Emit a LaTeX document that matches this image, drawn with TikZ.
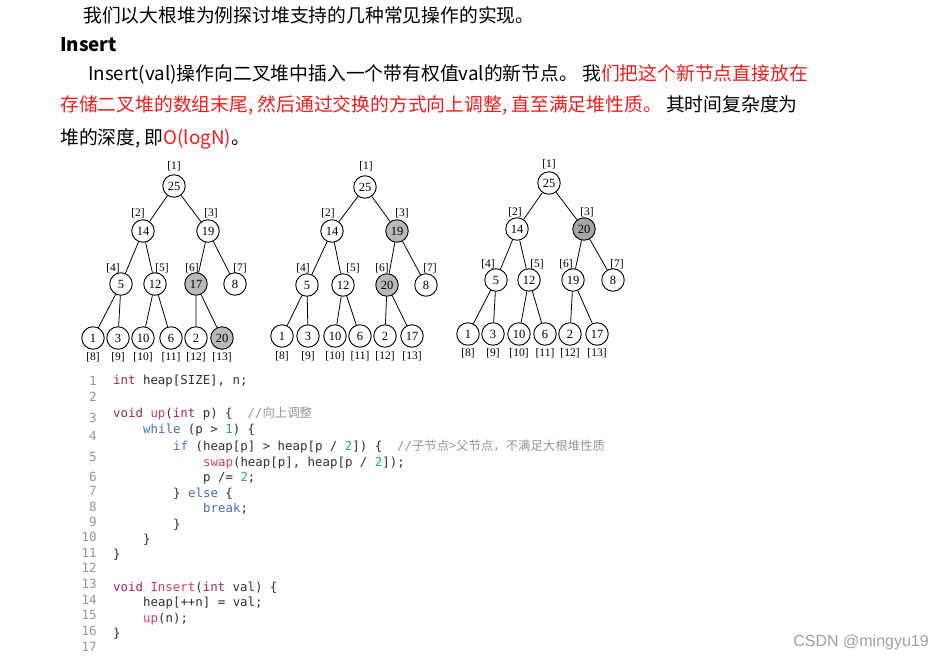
\documentclass[tikz,border=0pt]{standalone}
\usepackage{fontspec}
\setmainfont{Noto Sans CJK SC}
\setmonofont{DejaVu Sans Mono}
\newfontfamily\cjk{Noto Sans CJK SC}
\newfontfamily\treefont{Liberation Serif}
\newfontfamily\markfont{Liberation Sans}

\definecolor{redtxt}{RGB}{240,28,28}
\definecolor{kwtype}{RGB}{160,38,88}
\definecolor{kwctl}{RGB}{72,106,190}
\definecolor{fnname}{RGB}{212,62,100}
\definecolor{numcol}{RGB}{42,160,162}
\definecolor{cmtcol}{RGB}{150,150,150}
\definecolor{plain}{RGB}{48,48,48}
\definecolor{lncol}{RGB}{150,150,150}

\newcommand\kwt[1]{\textcolor{kwtype}{#1}}
\newcommand\ctl[1]{\textcolor{kwctl}{#1}}
\newcommand\cfn[1]{\textcolor{fnname}{#1}}
\newcommand\cnum[1]{\textcolor{numcol}{#1}}
\newcommand\cmt[1]{\textcolor{cmtcol}{#1}}
\newcommand\rt[1]{\textcolor{redtxt}{#1}}

\tikzset{
  para/.style={anchor=base west,inner sep=0pt,font=\fontsize{18.8}{18.8}\selectfont},
  hnode/.style={circle,draw,line width=0.9pt,minimum size=22.5pt,inner sep=0pt,
    font=\treefont\fontsize{12.5}{12.5}\selectfont},
  hot/.style={fill=gray!55},
  idx/.style={inner sep=0pt,font=\treefont\fontsize{11.5}{11.5}\selectfont},
  lno/.style={anchor=east,inner sep=0pt,text=lncol,font=\ttfamily\fontsize{12.6}{12.6}\selectfont},
  code/.style={anchor=west,inner sep=0pt,text=plain,font=\ttfamily\fontsize{12.4}{12.4}\selectfont},
}

\begin{document}
\begin{tikzpicture}[x=1pt,y=-1pt]
  \useasboundingbox (0,0) rectangle (945,664);

  \node[para] (t1) at (83,22) {我们以大根堆为例探讨堆支持的几种常见操作的实现。};
  \node[para,font=\fontsize{18.8}{18.8}\selectfont\bfseries] (t2) at (60,51) {Insert};
  \node[para] (t3) at (88,80) {Insert(val)操作向二叉堆中插入一个带有权值val的新节点。 我\rt{们把这个新节点直接放在}};
  \node[para] (t4) at (60,111) {\rt{存储二叉堆的数组末尾, 然后通过交换的方式向上调整, 直至满足堆性质。} 其时间复杂度为};
  \node[para] (t5) at (60,144) {堆的深度, 即\rt{O(logN)}。};

  \node[hnode] (a1) at (174,186) {25};
  \node[hnode] (a2) at (143,231) {14};
  \node[hnode] (a3) at (208,231) {19};
  \node[hnode] (a4) at (121,284) {5};
  \node[hnode] (a5) at (155,284) {12};
  \node[hnode,hot] (a6) at (196,284) {17};
  \node[hnode] (a7) at (235,284) {8};
  \node[hnode] (a8) at (93,338) {1};
  \node[hnode] (a9) at (118,338) {3};
  \node[hnode] (a10) at (143,338) {10};
  \node[hnode] (a11) at (171,338) {6};
  \node[hnode] (a12) at (196,338) {2};
  \node[hnode,hot] (a13) at (222,338) {20};
  \node[idx] (ia1) at (174,166) {[1]};
  \node[idx] (ia2) at (138,213) {[2]};
  \node[idx] (ia3) at (211,213) {[3]};
  \node[idx] (ia4) at (113,268) {[4]};
  \node[idx] (ia5) at (162,268) {[5]};
  \node[idx] (ia6) at (192,268) {[6]};
  \node[idx] (ia7) at (240,268) {[7]};
  \node[idx] (ia8) at (93,357) {[8]};
  \node[idx] (ia9) at (118,357) {[9]};
  \node[idx] (ia10) at (143,357) {[10]};
  \node[idx] (ia11) at (171,357) {[11]};
  \node[idx] (ia12) at (196,357) {[12]};
  \node[idx] (ia13) at (222,357) {[13]};
  \draw[line width=0.8pt] (a1)--(a2) (a1)--(a3) (a2)--(a4) (a2)--(a5) (a3)--(a6) (a3)--(a7);
  \draw[line width=0.8pt] (a4)--(a8) (a4)--(a9) (a5)--(a10) (a5)--(a11) (a6)--(a12) (a6)--(a13);

  \node[hnode] (b1) at (365,187) {25};
  \node[hnode] (b2) at (332,231) {14};
  \node[hnode,hot] (b3) at (397,231) {19};
  \node[hnode] (b4) at (307,285) {5};
  \node[hnode] (b5) at (343,285) {12};
  \node[hnode,hot] (b6) at (387,285) {20};
  \node[hnode] (b7) at (426,285) {8};
  \node[hnode] (b8) at (282,336) {1};
  \node[hnode] (b9) at (308,336) {3};
  \node[hnode] (b10) at (335,336) {10};
  \node[hnode] (b11) at (360,336) {6};
  \node[hnode] (b12) at (385,336) {2};
  \node[hnode] (b13) at (412,336) {17};
  \node[idx] (ib1) at (366,166) {[1]};
  \node[idx] (ib2) at (328,213) {[2]};
  \node[idx] (ib3) at (402,213) {[3]};
  \node[idx] (ib4) at (303,268) {[4]};
  \node[idx] (ib5) at (353,268) {[5]};
  \node[idx] (ib6) at (382,268) {[6]};
  \node[idx] (ib7) at (430,268) {[7]};
  \node[idx] (ib8) at (282,356) {[8]};
  \node[idx] (ib9) at (308,356) {[9]};
  \node[idx] (ib10) at (335,356) {[10]};
  \node[idx] (ib11) at (360,356) {[11]};
  \node[idx] (ib12) at (385,356) {[12]};
  \node[idx] (ib13) at (412,356) {[13]};
  \draw[line width=0.8pt] (b1)--(b2) (b1)--(b3) (b2)--(b4) (b2)--(b5) (b3)--(b6) (b3)--(b7);
  \draw[line width=0.8pt] (b4)--(b8) (b4)--(b9) (b5)--(b10) (b5)--(b11) (b6)--(b12) (b6)--(b13);

  \node[hnode] (c1) at (549,183) {25};
  \node[hnode] (c2) at (517,229) {14};
  \node[hnode,fill=gray!70] (c3) at (584,229) {20};
  \node[hnode] (c4) at (496,280) {5};
  \node[hnode] (c5) at (529,280) {12};
  \node[hnode] (c6) at (573,280) {19};
  \node[hnode] (c7) at (613,280) {8};
  \node[hnode] (c8) at (468,334) {1};
  \node[hnode] (c9) at (493,334) {3};
  \node[hnode] (c10) at (519,334) {10};
  \node[hnode] (c11) at (545,334) {6};
  \node[hnode] (c12) at (570,334) {2};
  \node[hnode] (c13) at (597,334) {17};
  \node[idx] (ic1) at (549,164) {[1]};
  \node[idx] (ic2) at (515,212) {[2]};
  \node[idx] (ic3) at (587,212) {[3]};
  \node[idx] (ic4) at (488,264) {[4]};
  \node[idx] (ic5) at (537,264) {[5]};
  \node[idx] (ic6) at (566,264) {[6]};
  \node[idx] (ic7) at (617,264) {[7]};
  \node[idx] (ic8) at (468,353) {[8]};
  \node[idx] (ic9) at (493,353) {[9]};
  \node[idx] (ic10) at (519,353) {[10]};
  \node[idx] (ic11) at (545,353) {[11]};
  \node[idx] (ic12) at (570,353) {[12]};
  \node[idx] (ic13) at (597,353) {[13]};
  \draw[line width=0.8pt] (c1)--(c2) (c1)--(c3) (c2)--(c4) (c2)--(c5) (c3)--(c6) (c3)--(c7);
  \draw[line width=0.8pt] (c4)--(c8) (c4)--(c9) (c5)--(c10) (c5)--(c11) (c6)--(c12) (c6)--(c13);

  \node[lno] (n1) at (97,381) {1};
  \node[lno] (n2) at (97,397) {2};
  \node[lno] (n3) at (97,418) {3};
  \node[lno] (n4) at (97,436) {4};
  \node[lno] (n5) at (97,457) {5};
  \node[lno] (n6) at (97,477) {6};
  \node[lno] (n7) at (97,491) {7};
  \node[lno] (n8) at (97,507) {8};
  \node[lno] (n9) at (97,522) {9};
  \node[lno] (n10) at (97,537) {10};
  \node[lno] (n11) at (97,553) {11};
  \node[lno] (n12) at (97,568) {12};
  \node[lno] (n13) at (97,584) {13};
  \node[lno] (n14) at (97,600) {14};
  \node[lno] (n15) at (97,615) {15};
  \node[lno] (n16) at (97,631) {16};
  \node[lno] (n17) at (97,647) {17};

  \node[code] (k1) at (113,381) {\kwt{int} heap[SIZE], n;};
  \node[code] (k3) at (113,414) {\kwt{void} \cfn{up}(\kwt{int} p) \{~~\cmt{//{\cjk 向上调整}}};
  \node[code] (k4) at (143,430) {\ctl{while} (p > \cnum{1}) \{};
  \node[code] (k5) at (173,447) {\ctl{if} (heap[p] > heap[p / \cnum{2}]) \{~~\cmt{//{\cjk 子节点>父节点，不满足大根堆性质}}};
  \node[code] (k6) at (203,463) {\cfn{swap}(heap[p], heap[p / \cnum{2}]);};
  \node[code] (k7) at (203,478) {p /= \cnum{2};};
  \node[code] (k8) at (173,494) {\} \ctl{else} \{};
  \node[code] (k9) at (203,509) {\ctl{break};};
  \node[code] (k10) at (173,525) {\}};
  \node[code] (k11) at (143,540) {\}};
  \node[code] (k12) at (113,555) {\}};
  \node[code] (k14) at (113,588) {\kwt{void} \cfn{Insert}(\kwt{int} val) \{};
  \node[code] (k15) at (143,603) {heap[++n] = val;};
  \node[code] (k16) at (143,619) {\cfn{up}(n);};
  \node[code] (k17) at (113,634) {\}};

  \node[anchor=east,inner sep=0pt,text=gray!75,font=\markfont\fontsize{16}{16}\selectfont] (wm) at (929,642) {CSDN @mingyu19};
\end{tikzpicture}
\end{document}
